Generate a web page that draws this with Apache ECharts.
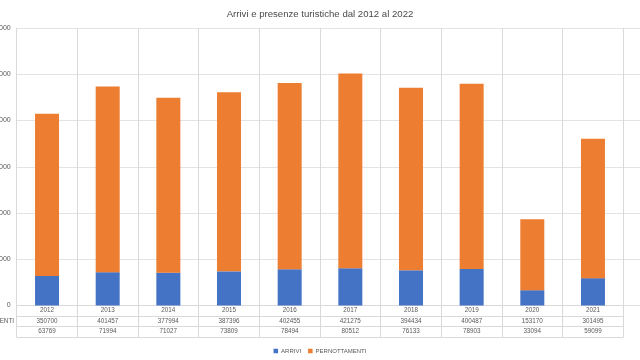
<!DOCTYPE html>
<html>
<head>
<meta charset="utf-8">
<script src="https://cdn.jsdelivr.net/npm/echarts@6/dist/echarts.min.js"></script>
<style>html,body{margin:0;padding:0;background:#fff}#c{width:640px;height:360px}</style>
</head>
<body>
<div id="c"></div>
<script>
const years = ['2012','2013','2014','2015','2016','2017','2018','2019','2020','2021'];
const pernottamenti = [350700, 401457, 377994, 387396, 402455, 421275, 394434, 400487, 153170, 301495];
const arrivi = [63769, 71994, 71027, 73809, 78494, 80512, 76133, 78903, 33094, 59099];
const yTicks = {min: 0, max: 600000, interval: 100000};

const grey = '#595959';
const line = '#d9d9d9';
const font = 'Liberation Sans, Arial, sans-serif';
const chart = echarts.init(document.getElementById('c'), null, {renderer: 'canvas'});

function tableAxis(data, offset, extra) {
  return Object.assign({
    type: 'category', gridIndex: 1, position: 'bottom', data: data, offset: offset,
    boundaryGap: true,
    axisLine: {show: true, lineStyle: {color: line, width: 1}},
    axisTick: {show: true, interval: 0, length: 10.5, alignWithLabel: false, lineStyle: {color: line}},
    axisLabel: {show: true, interval: 0, fontSize: 6.3, color: grey, margin: 2, fontFamily: font},
    splitLine: {show: false}
  }, extra || {});
}

chart.setOption({
  animation: false,
  title: {
    text: 'Arrivi e presenze turistiche dal 2012 al 2022',
    left: 'center', top: 4,
    textStyle: {fontSize: 9.6, fontWeight: 'normal', color: '#4a4a4a', fontFamily: font}
  },
  legend: {
    data: ['ARRIVI', 'PERNOTTAMENTI'],
    left: 'center', top: 343,
    icon: 'rect', itemWidth: 4.5, itemHeight: 4.5, itemGap: 7,
    textStyle: {fontSize: 6, color: grey, fontFamily: font, padding: [0, 0, 0, -2]}
  },
  grid: [
    {left: 16.7, right: 0, top: 28, bottom: 54.5, containLabel: false, outerBoundsMode: 'none'},
    {left: 16.7, right: 16.7, top: 28, bottom: 54.5, containLabel: false, outerBoundsMode: 'none'}
  ],
  xAxis: [
    tableAxis(years, 0, {splitLine: {show: true, interval: 0, lineStyle: {color: line}}}),
    tableAxis(pernottamenti.map(String), 10.5, {
      name: 'PERNOTTAMENTI', nameLocation: 'start', nameGap: 2.7,
      nameTextStyle: {fontSize: 6.3, color: grey, fontFamily: font, align: 'right', verticalAlign: 'top', lineHeight: 10.5}
    }),
    tableAxis(arrivi.map(String), 21),
    tableAxis(years.map(() => ''), 31.5, {axisTick: {show: false}, axisLabel: {show: false}}),
    {type: 'value', gridIndex: 0, show: false}
  ],
  yAxis: [
    {
      type: 'value', gridIndex: 0, min: yTicks.min, max: yTicks.max, interval: yTicks.interval,
      axisLine: {show: false}, axisTick: {show: false},
      axisLabel: {fontSize: 7, color: grey, margin: 6, fontFamily: font, formatter: v => String(v)},
      splitLine: {lineStyle: {color: '#e3e3e3'}}
    },
    {
      type: 'value', gridIndex: 1, min: yTicks.min, max: yTicks.max, interval: yTicks.interval,
      show: false, splitLine: {show: false}
    }
  ],
  series: [
    {name: 'ARRIVI', type: 'bar', stack: 'tot', xAxisIndex: 0, yAxisIndex: 1, data: arrivi,
     barWidth: 24, itemStyle: {color: '#4472C4'}},
    {name: 'PERNOTTAMENTI', type: 'bar', stack: 'tot', xAxisIndex: 0, yAxisIndex: 1, data: pernottamenti,
     barWidth: 24, itemStyle: {color: '#ED7D31'}}
  ]
});
</script>
</body>
</html>
